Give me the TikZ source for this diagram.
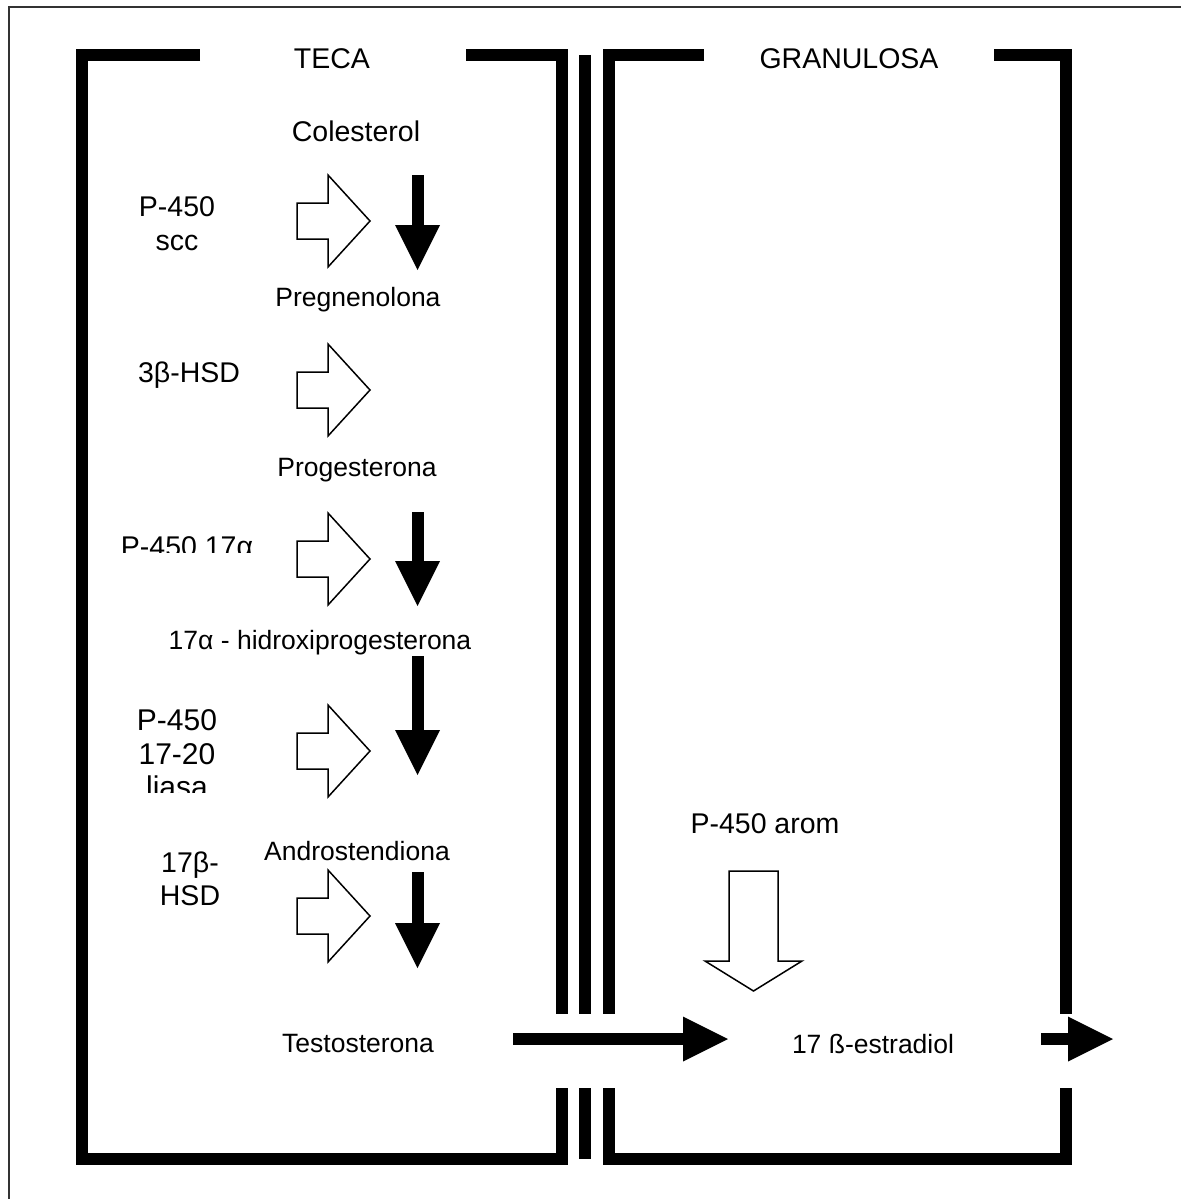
\documentclass[tikz,border=0pt]{standalone}
\usepackage{fontspec}
\setmainfont{Liberation Sans}
\usetikzlibrary{arrows.meta}
\tikzset{
  wall/.style={line width=12pt, line cap=butt, line join=miter},
  blk/.style={line width=12pt, line cap=butt, -{Triangle[length=45pt,width=45pt,line width=0pt]}},
  openarr/.style={draw=black, line width=1.5pt, line join=miter, fill=white},
  lbl/.style={anchor=base, inner sep=0pt, font=\fontsize{26.5}{30}\selectfont},
  big/.style={anchor=base, inner sep=0pt, font=\fontsize{28.5}{32}\selectfont},
  frameline/.style={draw=black!80, line width=1.3pt},
  pics/openright/.style={code={
    \draw[openarr] (0,-18) -- (31,-18) -- (31,-46) -- (73,0) -- (31,46) -- (31,18) -- (0,18) -- cycle;}}
}
\begin{document}
\begin{tikzpicture}[x=1pt,y=-1pt]
\useasboundingbox (0,0) rectangle (1181,1199);
\fill[white] (0,0) rectangle (1181,1199);
% outer frame
\draw[frameline] (9,1199) -- (9,7) -- (1181,7);

% TECA compartment
\draw[wall] (200,55.5) -- (81.5,55.5) -- (81.5,1159) -- (561.5,1159) -- (561.5,1088);
\draw[wall] (466,55.5) -- (561.5,55.5) -- (561.5,1014);
% middle membrane
\draw[wall] (585,55) -- (585,1014);
\draw[wall] (585,1088) -- (585,1159);
% GRANULOSA compartment
\draw[wall] (704,55.5) -- (609,55.5) -- (609,1014);
\draw[wall] (609,1088) -- (609,1159) -- (1065.5,1159) -- (1065.5,1088);
\draw[wall] (994,55.5) -- (1065.5,55.5) -- (1065.5,1014);

% titles
\node[big] (teca) at (332,68) {TECA};
\node[big] (gran) at (849,68) {GRANULOSA};

% substrates
\node[big] (col) at (356,141) {Colesterol};
\node[lbl] (preg) at (358,306) {Pregnenolona};
\node[lbl] (prog) at (357,476) {Progesterona};
\node[lbl] (hidr) at (320,649) {17α - hidroxiprogesterona};
\node[lbl] (andr) at (357,860) {Androstendiona};
\node[lbl] (test) at (358,1052) {Testosterona};
\node[lbl] (estr) at (873,1053) {17 ß-estradiol};

% enzymes
\node[big] (e1a) at (177,216) {P-450};
\node[big] (e1b) at (177,250) {scc};
\node[big] (e2) at (189,382) {3β-HSD};
\begin{scope}
  \clip (100,500) rectangle (280,552);
  \node[big] (e3) at (187,556) {P-450 17α};
\end{scope}
\begin{scope}
  \clip (100,660) rectangle (280,792);
  \node[big, font=\fontsize{30}{34}\selectfont] (e4a) at (177,730) {P-450};
  \node[big, font=\fontsize{30}{34}\selectfont] (e4b) at (177,764) {17-20};
  \node[big, font=\fontsize{30}{34}\selectfont] (e4c) at (177,797) {liasa};
\end{scope}
\node[big] (e5a) at (190,872) {17β-};
\node[big] (e5b) at (190,905) {HSD};
\node[big] (arom) at (765,833) {P-450 arom};

% open (enzyme) arrows
\pic at (297,221) {openright};
\pic at (297,390) {openright};
\pic at (297,559) {openright};
\pic at (297,751) {openright};
\pic at (297,916) {openright};
\draw[openarr] (729,871) -- (778,871) -- (778,961) -- (802,961) -- (753.5,991) -- (705,961) -- (729,961) -- cycle;

% black reaction arrows
\coordinate (a1s) at (417.5,175);  \coordinate (a1e) at (417.5,270);
\coordinate (a3s) at (417.5,512);  \coordinate (a3e) at (417.5,606);
\coordinate (a4s) at (417.5,656);  \coordinate (a4e) at (417.5,775);
\coordinate (a5s) at (417.5,872);  \coordinate (a5e) at (417.5,968);
\coordinate (h1s) at (513,1039);   \coordinate (h1e) at (728,1039);
\coordinate (h2s) at (1041,1039);  \coordinate (h2e) at (1113,1039);
\draw[blk] (a1s) -- (a1e);
\draw[blk] (a3s) -- (a3e);
\draw[blk] (a4s) -- (a4e);
\draw[blk] (a5s) -- (a5e);
\draw[blk] (h1s) -- (h1e);
\draw[blk] (h2s) -- (h2e);
\end{tikzpicture}
\end{document}
